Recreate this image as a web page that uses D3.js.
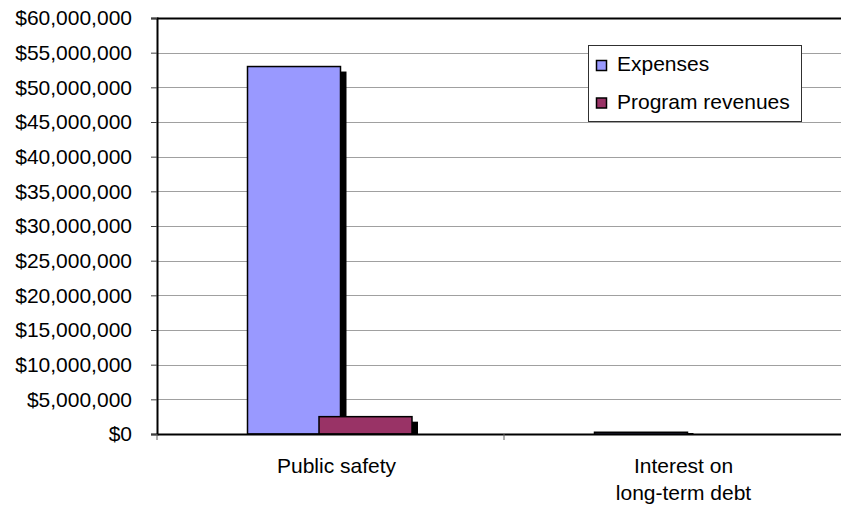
<!DOCTYPE html>
<html lang="en">
<head>
    <meta charset="UTF-8">
    <title>Expenses and program revenues</title>
    <script src="https://cdnjs.cloudflare.com/ajax/libs/d3/7.8.2/d3.min.js"></script>
    <style>
        body{
            margin: 0;
            background: white;
        }
        svg{
            display: block;
            font-family: "Liberation Sans", Arial, sans-serif;
        }
    </style>
</head>
<body>
    <div class="container"></div>
    <script>
        // data
        let categories = ['Public safety', 'Interest on\nlong-term debt'];
        let seriesNames = ['Expenses', 'Program revenues'];
        let expenses = [53000000, 250000];
        let programRevenues = [2500000, 0];
        let tickValues = [0, 5000000, 10000000, 15000000, 20000000, 25000000, 30000000,
                          35000000, 40000000, 45000000, 50000000, 55000000, 60000000];
        let colors = ['#9999ff', '#993366'];

        let width = 841;
        let height = 509;
        let plotLeft = 157;
        let plotTop = 18;
        let plotBottom = 434;
        let plotRight = 851; // plot runs off the right edge in the original

        let svg = d3.select('.container').append('svg')
                    .attr('width', width).attr('height', height);

        let series = seriesNames.map((name, i) => ({name: name, values: i == 0 ? expenses : programRevenues}));

        let xScale = d3.scaleBand()
                       .domain(categories)
                       .range([plotLeft, plotRight]);

        let yScale = d3.scaleLinear()
                       .domain([0, 60000000])
                       .range([plotBottom, plotTop]);

        let barWidth = 93;
        let barStep = 71.5;

        const drawGrid = () =>{
            svg.append('g').selectAll('line')
               .data(tickValues.slice(1, -1))
               .enter().append('line')
               .attr('x1', plotLeft).attr('x2', width)
               .attr('y1', d => Math.round(yScale(d)) + 0.5)
               .attr('y2', d => Math.round(yScale(d)) + 0.5)
               .attr('stroke', '#a0a0a0').attr('stroke-width', 1);

            // top border
            svg.append('line')
               .attr('x1', plotLeft).attr('x2', width)
               .attr('y1', plotTop + 0.5).attr('y2', plotTop + 0.5)
               .attr('stroke', 'black').attr('stroke-width', 2);
        }

        const drawBars = () =>{
            series.forEach((s, i) => {
                let g = svg.append('g');
                let xOf = (c) => xScale(c) + xScale.bandwidth() / 2 - 36.5 + i * barStep - barWidth / 2;
                let data = categories.map((c, j) => ({cat: c, value: s.values[j]})).filter(d => d.value > 0);

                // drop shadow
                g.selectAll('rect.shadow')
                 .data(data).enter().append('rect')
                 .attr('class', 'shadow')
                 .attr('x', d => xOf(d.cat) + 6)
                 .attr('y', d => Math.min(yScale(d.value) + 5, plotBottom - 1))
                 .attr('width', barWidth)
                 .attr('height', d => Math.max(plotBottom - yScale(d.value) - 5, 1))
                 .attr('fill', 'black');

                g.selectAll('rect.bar')
                 .data(data).enter().append('rect')
                 .attr('class', 'bar')
                 .attr('x', d => xOf(d.cat))
                 .attr('y', d => yScale(d.value))
                 .attr('width', barWidth)
                 .attr('height', d => plotBottom - yScale(d.value))
                 .attr('fill', colors[i])
                 .attr('stroke', 'black').attr('stroke-width', 1.5);
            });
        }

        const drawAxes = () =>{
            let yAxis = d3.axisLeft(yScale)
                          .tickValues(tickValues)
                          .tickSize(6)
                          .tickPadding(19)
                          .tickFormat(d => '$' + d3.format(',')(d));
            let yg = svg.append('g').attr('transform', `translate(${plotLeft},0)`).call(yAxis);
            yg.select('.domain').attr('stroke', 'black').attr('stroke-width', 2);
            yg.selectAll('.tick line').attr('stroke', '#404040');
            yg.selectAll('text').attr('font-size', 21).attr('fill', 'black')
              .attr('font-family', '"Liberation Sans", Arial, sans-serif');

            let xAxis = d3.axisBottom(xScale).tickSize(0).tickFormat('');
            let xg = svg.append('g').attr('transform', `translate(0,${plotBottom})`).call(xAxis);
            xg.select('.domain').attr('stroke', 'black').attr('stroke-width', 2);

            // category dividers
            xg.selectAll('line.div')
              .data(categories.slice(1)).enter().append('line')
              .attr('class', 'div')
              .attr('x1', d => xScale(d)).attr('x2', d => xScale(d))
              .attr('y1', 0).attr('y2', 6)
              .attr('stroke', '#606060');

            // tick at the origin
            xg.append('line')
              .attr('x1', plotLeft).attr('x2', plotLeft).attr('y1', 0).attr('y2', 6)
              .attr('stroke', '#606060');

            let labels = svg.append('g').selectAll('text')
                            .data(categories).enter().append('text')
                            .attr('text-anchor', 'middle')
                            .attr('font-size', 21)
                            .attr('fill', 'black')
                            .attr('transform', d => `translate(${xScale(d) + xScale.bandwidth() / 2 + 6},473)`);
            labels.selectAll('tspan')
                  .data(d => d.split('\n')).enter().append('tspan')
                  .attr('x', 0)
                  .attr('y', (d, i) => i * 27)
                  .text(d => d);
        }

        const drawLegend = () =>{
            let lg = svg.append('g').attr('transform', 'translate(588,45)');
            lg.append('rect')
              .attr('x', 0.5).attr('y', 0.5).attr('width', 213).attr('height', 76)
              .attr('fill', 'white').attr('stroke', '#303030').attr('stroke-width', 1);
            let items = lg.selectAll('g.item')
                          .data(series).enter().append('g')
                          .attr('class', 'item')
                          .attr('transform', (d, i) => `translate(0,${i * 37.5})`);
            items.append('rect')
                 .attr('x', 8.5).attr('y', 15.5).attr('width', 10).attr('height', 10)
                 .attr('fill', (d, i) => colors[i])
                 .attr('stroke', 'black').attr('stroke-width', 1.5);
            items.append('text')
                 .attr('x', 29).attr('y', 26)
                 .attr('font-size', 21)
                 .attr('fill', 'black')
                 .text(d => d.name);
        }

        drawGrid();
        drawBars();
        drawAxes();
        drawLegend();
    </script>
</body>
</html>
